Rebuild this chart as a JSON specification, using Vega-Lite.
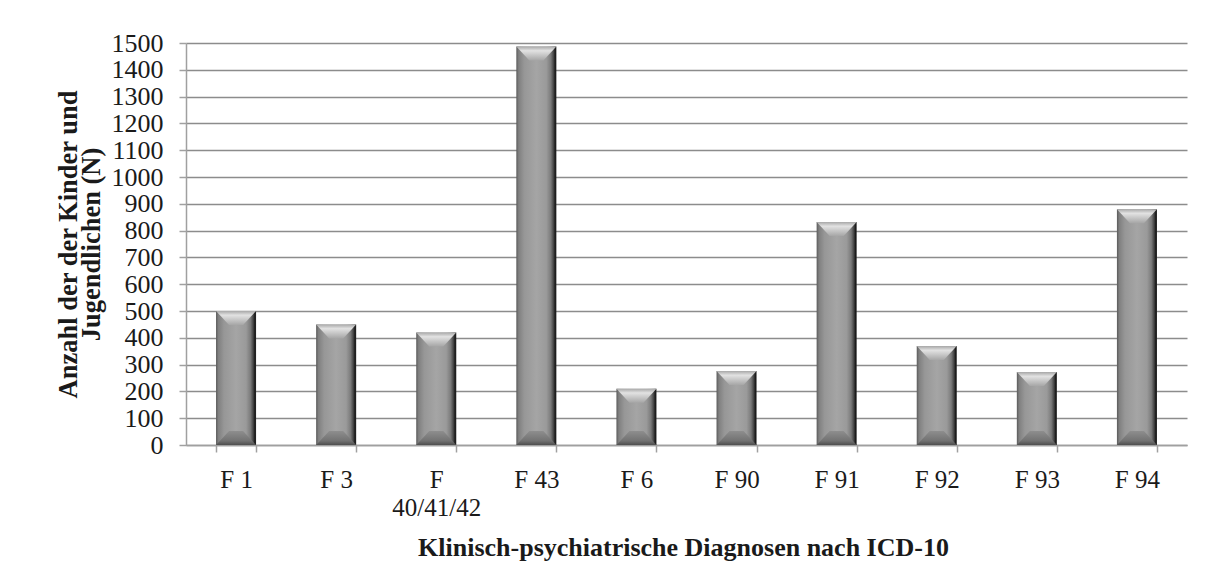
{
  "$schema": "https://vega.github.io/schema/vega-lite/v6.json",
  "width": 1001,
  "height": 402,
  "autosize": {"type": "none"},
  "padding": {"left": 186, "top": 43, "right": 24, "bottom": 141},
  "background": "white",
  "config": {
    "view": {"stroke": null},
    "font": "Liberation Serif"
  },
  "data": {
    "values": [
      {"diagnose": "F 1", "n": 500},
      {"diagnose": "F 3", "n": 450},
      {"diagnose": "F 40/41/42", "n": 420},
      {"diagnose": "F 43", "n": 1487},
      {"diagnose": "F 6", "n": 210},
      {"diagnose": "F 90", "n": 276},
      {"diagnose": "F 91", "n": 832},
      {"diagnose": "F 92", "n": 369},
      {"diagnose": "F 93", "n": 272},
      {"diagnose": "F 94", "n": 880}
    ]
  },
  "encoding": {
    "x": {
      "field": "diagnose",
      "type": "nominal",
      "sort": null,
      "scale": {"paddingInner": 0.6, "paddingOuter": 0.3},
      "axis": {
        "title": "Klinisch-psychiatrische Diagnosen nach ICD-10",
        "labelAngle": 0,
        "labelFont": "Liberation Serif",
        "labelFontSize": 25,
        "labelColor": "#1a1a1a",
        "labelBaseline": "alphabetic",
        "labelPadding": 35,
        "labelLineHeight": 28,
        "labelExpr": "datum.label == 'F 40/41/42' ? ['F', '40/41/42'] : datum.label",
        "tickBand": "extent",
        "tickSize": 7,
        "tickColor": "#a0a0a0",
        "tickWidth": 1.5,
        "domainColor": "#a0a0a0",
        "domainWidth": 1.5,
        "grid": false,
        "titleFont": "Liberation Serif",
        "titleFontSize": 26,
        "titleFontWeight": "bold",
        "titleColor": "#1a1a1a",
        "titleBaseline": "alphabetic",
        "titleX": 497,
        "titleY": 110
      }
    },
    "y": {
      "field": "n",
      "type": "quantitative",
      "scale": {"domain": [0, 1500], "nice": false},
      "axis": {
        "title": ["Anzahl der der Kinder und", "Jugendlichen (N)"],
        "values": [0, 100, 200, 300, 400, 500, 600, 700, 800, 900, 1000, 1100, 1200, 1300, 1400, 1500],
        "format": "d",
        "labelFont": "Liberation Serif",
        "labelFontSize": 26,
        "labelColor": "#1a1a1a",
        "labelPadding": 16,
        "tickSize": 7,
        "tickColor": "#a0a0a0",
        "tickWidth": 1.5,
        "domainColor": "#a0a0a0",
        "domainWidth": 1.5,
        "grid": true,
        "gridColor": "#8c8c8c",
        "gridWidth": 1.6,
        "titleFont": "Liberation Serif",
        "titleFontSize": 26.5,
        "titleFontWeight": "bold",
        "titleColor": "#1a1a1a",
        "titleAngle": -90,
        "titleAlign": "center",
        "titleBaseline": "alphabetic",
        "titleLineHeight": 23,
        "titleX": -110,
        "titleY": 201
      }
    }
  },
  "layer": [
    {
      "mark": {
        "type": "bar",
        "fill": {
          "x1": 0, "y1": 0, "x2": 1, "y2": 0,
          "gradient": "linear",
          "stops": [
            {"offset": 0, "color": "#5a5a5a"},
            {"offset": 0.06, "color": "#808080"},
            {"offset": 0.2, "color": "#979797"},
            {"offset": 0.5, "color": "#a5a5a5"},
            {"offset": 0.75, "color": "#9a9a9a"},
            {"offset": 0.86, "color": "#7b7b7b"},
            {"offset": 0.93, "color": "#444444"},
            {"offset": 0.97, "color": "#1a1a1a"},
            {"offset": 1, "color": "#262626"}
          ]
        }
      }
    },
    {
      "mark": {
        "type": "point",
        "filled": true,
        "opacity": 1,
        "strokeWidth": 0,
        "fill": {
          "x1": 0, "y1": 0, "x2": 0, "y2": 1,
          "gradient": "linear",
          "stops": [
            {"offset": 0, "color": "#a8a8a8"},
            {"offset": 0.3, "color": "#e2e2e2"},
            {"offset": 1, "color": "#a6a6a6"}
          ]
        }
      },
      "encoding": {
        "shape": {"value": "M -1 0 L 1 0 L 0.35 0.7 L -0.35 0.7 Z"},
        "size": {"value": 1600}
      }
    },
    {
      "mark": {
        "type": "point",
        "filled": true,
        "opacity": 1,
        "strokeWidth": 0,
        "fill": {
          "x1": 0, "y1": 0, "x2": 0, "y2": 1,
          "gradient": "linear",
          "stops": [
            {"offset": 0, "color": "#8e8e8e"},
            {"offset": 0.7, "color": "#727272"},
            {"offset": 1, "color": "#4e4e4e"}
          ]
        }
      },
      "encoding": {
        "y": {"datum": 0},
        "shape": {"value": "M -1 0 L 1 0 L 0.35 -0.7 L -0.35 -0.7 Z"},
        "size": {"value": 1600}
      }
    }
  ]
}
